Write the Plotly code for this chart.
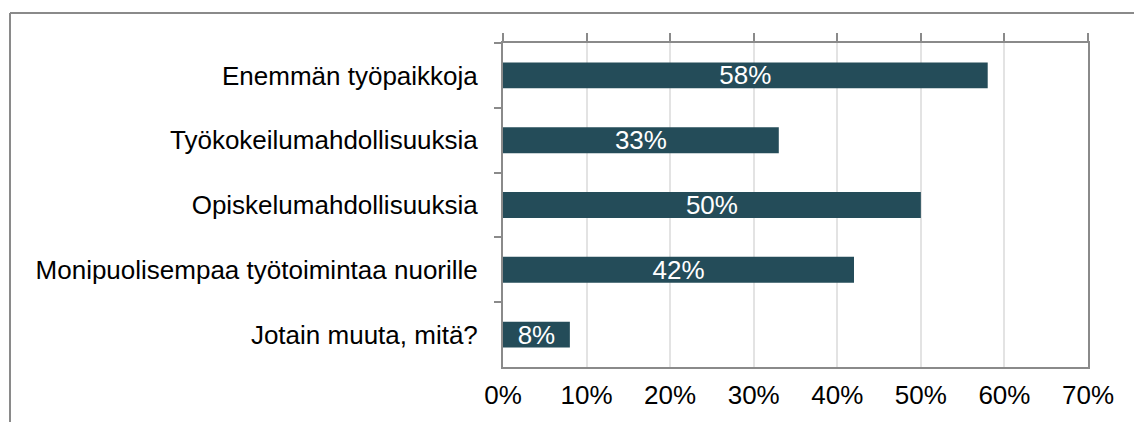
import plotly.graph_objects as go

categories = [
    "Enemmän työpaikkoja",
    "Työkokeilumahdollisuuksia",
    "Opiskelumahdollisuuksia",
    "Monipuolisempaa työtoimintaa nuorille",
    "Jotain muuta, mitä?",
]
values = [58, 33, 50, 42, 8]
x_ticks = [0, 10, 20, 30, 40, 50, 60, 70]
x_tick_labels = [f"{v}%" for v in x_ticks]

FONT = "Liberation Sans, Arial, sans-serif"
FS = 26
AXIS_COLOR = "#8a8a8a"
BAR_COLOR = "#244c59"

fig = go.Figure()
fig.add_trace(go.Bar(
    x=values, y=categories, orientation="h",
    marker=dict(color=BAR_COLOR, line=dict(width=0)),
    width=0.4,
    text=[f"{v}%" for v in values],
    textposition="inside", insidetextanchor="middle",
    textfont=dict(family=FONT, size=FS, color="white"),
    constraintext="none",
    hoverinfo="skip", showlegend=False,
))
# invisible trace to carry the top tick axis
fig.add_trace(go.Scatter(
    x=[0], y=[categories[0]], xaxis="x2", mode="markers",
    marker=dict(opacity=0), hoverinfo="skip", showlegend=False,
))

PW, PH = 585, 324
fig.update_layout(
    width=1142, height=422,
    margin=dict(l=495, r=62, t=35, b=63),
    paper_bgcolor="white", plot_bgcolor="white",
    font=dict(family=FONT, size=FS, color="black"),
    xaxis=dict(
        range=[0, 70], tickvals=x_ticks, ticktext=x_tick_labels,
        showgrid=True, gridcolor="#e3e3e3", gridwidth=2,
        showline=True, linecolor=AXIS_COLOR, linewidth=2, mirror=True,
        ticks="", zeroline=False,
        tickfont=dict(family=FONT, size=FS, color="black"),
        ticklabelstandoff=4,
    ),
    xaxis2=dict(
        range=[0, 70], tickvals=x_ticks, overlaying="x", side="top",
        ticks="outside", ticklen=9, tickwidth=2, tickcolor=AXIS_COLOR,
        showticklabels=False, showgrid=False, zeroline=False, showline=False,
    ),
    yaxis=dict(
        autorange="reversed", type="category",
        tickson="boundaries", ticks="outside", ticklen=7, tickwidth=2,
        tickcolor=AXIS_COLOR,
        showline=True, linecolor=AXIS_COLOR, linewidth=2, mirror=True,
        showgrid=False, zeroline=False,
        tickfont=dict(family=FONT, size=FS, color="black"),
        ticklabelstandoff=18,
    ),
    shapes=[
        dict(type="line", xref="paper", yref="paper",
             x0=(10 - 503) / PW, x1=1.2, y0=1 + (43 - 13) / PH, y1=1 + (43 - 13) / PH,
             line=dict(color=AXIS_COLOR, width=2)),
        dict(type="line", xref="paper", yref="paper",
             x0=(10 - 503) / PW, x1=(10 - 503) / PW, y0=1 + (43 - 13) / PH, y1=-0.3,
             line=dict(color=AXIS_COLOR, width=2)),
    ],
)

fig.write_html("out.html")
